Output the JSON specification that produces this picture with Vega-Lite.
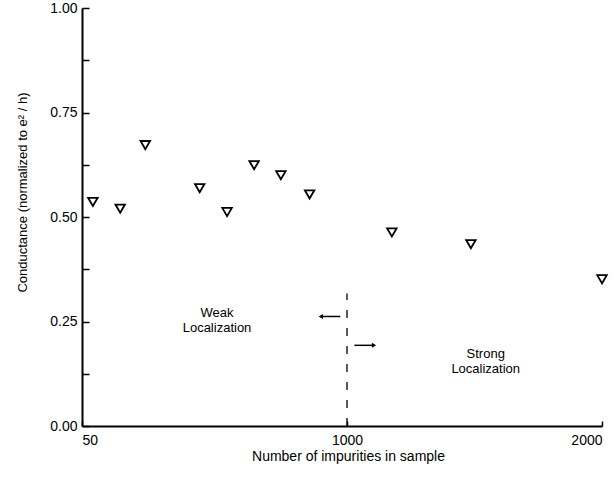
{
  "$schema": "https://vega.github.io/schema/vega-lite/v6.json",
  "width": 520,
  "height": 418,
  "autosize": {"type": "none"},
  "padding": {"left": 82, "top": 8, "right": 12, "bottom": 54},
  "background": "white",
  "config": {
    "view": {"stroke": null},
    "font": "Liberation Sans",
    "axis": {
      "domainColor": "black",
      "domainWidth": 2,
      "tickColor": "black",
      "tickWidth": 1.5,
      "grid": false,
      "labelFont": "Liberation Sans",
      "labelFontSize": 14,
      "labelColor": "black",
      "titleFont": "Liberation Sans",
      "titleFontSize": 14,
      "titleFontWeight": "normal",
      "titleColor": "black"
    }
  },
  "datasets": {
    "points": [
      {"x": 89, "y": 0.536},
      {"x": 187, "y": 0.520},
      {"x": 277, "y": 0.672},
      {"x": 472, "y": 0.569},
      {"x": 570, "y": 0.512},
      {"x": 667, "y": 0.624},
      {"x": 763, "y": 0.600},
      {"x": 866, "y": 0.554},
      {"x": 1176, "y": 0.463},
      {"x": 1486, "y": 0.435},
      {"x": 2000, "y": 0.351}
    ],
    "divider": [{"x": 1000, "y": 0, "y2": 0.317}],
    "arrows": [
      {"x": 976, "x2": 908, "y": 0.262},
      {"x": 1029, "x2": 1104, "y": 0.193}
    ],
    "heads": [
      {"x": 906, "y": 0.262, "dir": "triangle-left"},
      {"x": 1106, "y": 0.193, "dir": "triangle-right"}
    ],
    "labels": [
      {"x": 534, "y": 0.2696, "text": "Weak\nLocalization"},
      {"x": 1544, "y": 0.1715, "text": "Strong\nLocalization"}
    ]
  },
  "layer": [
    {
      "data": {"name": "points"},
      "mark": {"type": "point", "shape": "triangle-down", "filled": false, "size": 90, "strokeWidth": 1.8, "color": "black", "opacity": 1},
      "encoding": {
        "x": {
          "field": "x", "type": "quantitative",
          "scale": {"domain": [50, 1000, 2000], "range": [0, 265, 520], "nice": false, "zero": false},
          "axis": {
            "title": "Number of impurities in sample",
            "values": [50, 1000, 2000],
            "format": "d",
            "tickSize": -5,
            "labelPadding": 12,
            "labelAlign": {"expr": "datum.value == 50 ? 'left' : (datum.value == 2000 ? 'right' : 'center')"},
            "labelFlush": false,
            "labelOverlap": false,
            "titleX": 266,
            "titleY": 30,
            "titleBaseline": "middle",
            "titleAnchor": null
          }
        },
        "y": {
          "field": "y", "type": "quantitative",
          "scale": {"domain": [0, 1], "nice": false, "zero": true},
          "axis": {
            "title": "Conductance (normalized to e² / h)",
            "titleFontSize": 13,
            "values": [0, 0.125, 0.25, 0.375, 0.5, 0.625, 0.75, 0.875, 1],
            "labelExpr": "(datum.value * 4) % 1 == 0 ? format(datum.value, '.2f') : ''",
            "tickSize": -7,
            "labelPadding": 12,
            "labelFlush": false,
            "labelOverlap": false,
            "titleX": -60,
            "titleY": 184,
            "titleBaseline": "middle",
            "titleAngle": -90
          }
        }
      }
    },
    {
      "data": {"name": "divider"},
      "mark": {"type": "rule", "color": "black", "strokeWidth": 1.3, "strokeDash": [8, 10]},
      "encoding": {
        "x": {"field": "x", "type": "quantitative"},
        "y": {"field": "y", "type": "quantitative"},
        "y2": {"field": "y2"}
      }
    },
    {
      "data": {"name": "arrows"},
      "mark": {"type": "rule", "color": "black", "strokeWidth": 1.5},
      "encoding": {
        "x": {"field": "x", "type": "quantitative"},
        "x2": {"field": "x2"},
        "y": {"field": "y", "type": "quantitative"}
      }
    },
    {
      "data": {"name": "heads"},
      "mark": {"type": "point", "filled": true, "size": 25, "color": "black", "opacity": 1},
      "encoding": {
        "x": {"field": "x", "type": "quantitative"},
        "y": {"field": "y", "type": "quantitative"},
        "shape": {"field": "dir", "type": "nominal", "scale": null, "legend": null}
      }
    },
    {
      "data": {"name": "labels"},
      "mark": {"type": "text", "font": "Liberation Sans", "fontSize": 13, "lineBreak": "\n", "lineHeight": 15, "color": "black", "align": "center", "baseline": "middle"},
      "encoding": {
        "x": {"field": "x", "type": "quantitative"},
        "y": {"field": "y", "type": "quantitative"},
        "text": {"field": "text", "type": "nominal"}
      }
    }
  ]
}
